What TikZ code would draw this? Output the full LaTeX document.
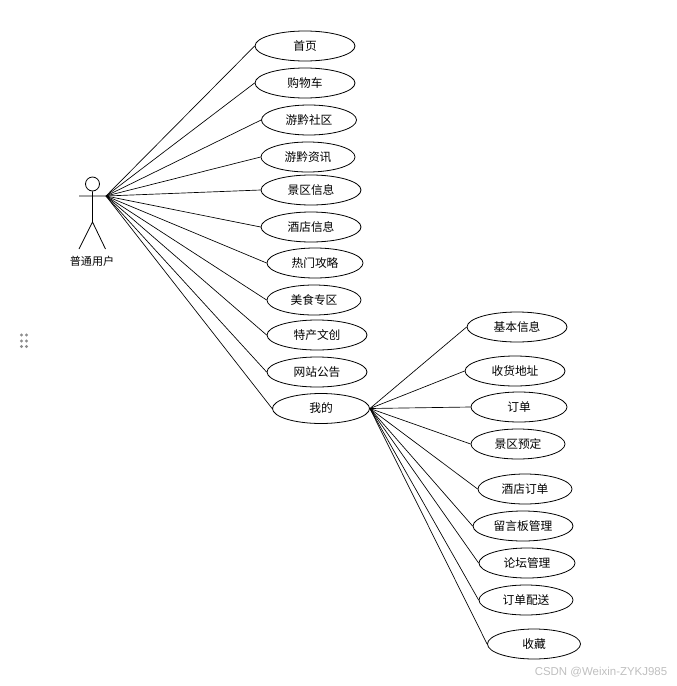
\documentclass[tikz,border=0pt]{standalone}
\usepackage{fontspec}
\newfontfamily\cjk{Noto Sans CJK SC}
\setmainfont{Liberation Sans}
\usetikzlibrary{shapes.geometric}
\tikzset{
  x=0.75pt,y=-0.75pt,
  usecase/.style={draw=black,line width=0.6pt,ellipse,inner sep=0pt,minimum height=22.5pt,font=\cjk\fontsize{8.8pt}{10pt}\selectfont},
  assoc/.style={draw=black,line width=0.5pt},
  griplot/.style={fill=black!45,draw=none,circle,inner sep=0pt,minimum size=2.3pt},
}
\newcommand{\ucase}[5]{\node[usecase,minimum width=#4*0.75pt] (#1) at (#2,#3) {#5};}
\begin{document}
\begin{tikzpicture}
\useasboundingbox (0,0) rectangle (677,686);
% actor
\coordinate (hub) at (106,196);
\coordinate (armL) at (79,196);
\coordinate (hip) at (92.5,222);
\coordinate (legL) at (79,249);
\coordinate (legR) at (105.5,249);
\node[draw=black,line width=0.6pt,circle,inner sep=0pt,minimum size=10.5pt] (head) at (92.5,184) {};
\draw[assoc,line width=0.6pt] (head.south) -- (hip) (armL) -- (hub) (legL) -- (hip) -- (legR);
\node[font=\cjk\fontsize{8.3pt}{9pt}\selectfont] (actorlabel) at (92,261) {普通用户};
% first level
\ucase{a1}{305}{46}{100}{首页}
\ucase{a2}{305}{83}{100}{购物车}
\ucase{a3}{309}{120}{95}{游黔社区}
\ucase{a4}{308}{157}{94}{游黔资讯}
\ucase{a5}{311}{190}{100}{景区信息}
\ucase{a6}{311}{227}{100}{酒店信息}
\ucase{a7}{315}{263}{96}{热门攻略}
\ucase{a8}{314}{300}{94}{美食专区}
\ucase{a9}{317}{335}{100}{特产文创}
\ucase{a10}{317}{372}{100}{网站公告}
\ucase{a11}{321}{408.5}{97}{我的}
% second level
\ucase{b1}{517}{327}{100}{基本信息}
\ucase{b2}{515}{371}{100}{收货地址}
\ucase{b3}{519}{407}{96}{订单}
\ucase{b4}{518}{444}{94}{景区预定}
\ucase{b5}{525}{489}{94}{酒店订单}
\ucase{b6}{523}{526}{100}{留言板管理}
\ucase{b7}{527}{563}{96}{论坛管理}
\ucase{b8}{526}{600}{94}{订单配送}
\ucase{b9}{534}{644}{93}{收藏}
\foreach \n in {a1,a2,a3,a4,a5,a6,a7,a8,a9,a10,a11} \draw[assoc] (hub) -- (\n.west);
\foreach \n in {b1,b2,b3,b4,b5,b6,b7,b8,b9} \draw[assoc] (a11.east) -- (\n.west);
% grip dots
\foreach \gx in {21.5,26.5} \foreach \gy in {335,341,346.5} \node[griplot] at (\gx,\gy) {};
% watermark
\node[text=black!25,font=\fontsize{8.6pt}{10pt}\selectfont,inner sep=0pt] (mark) at (601,672.5) {CSDN @Weixin-ZYKJ985};
\end{tikzpicture}
\end{document}
